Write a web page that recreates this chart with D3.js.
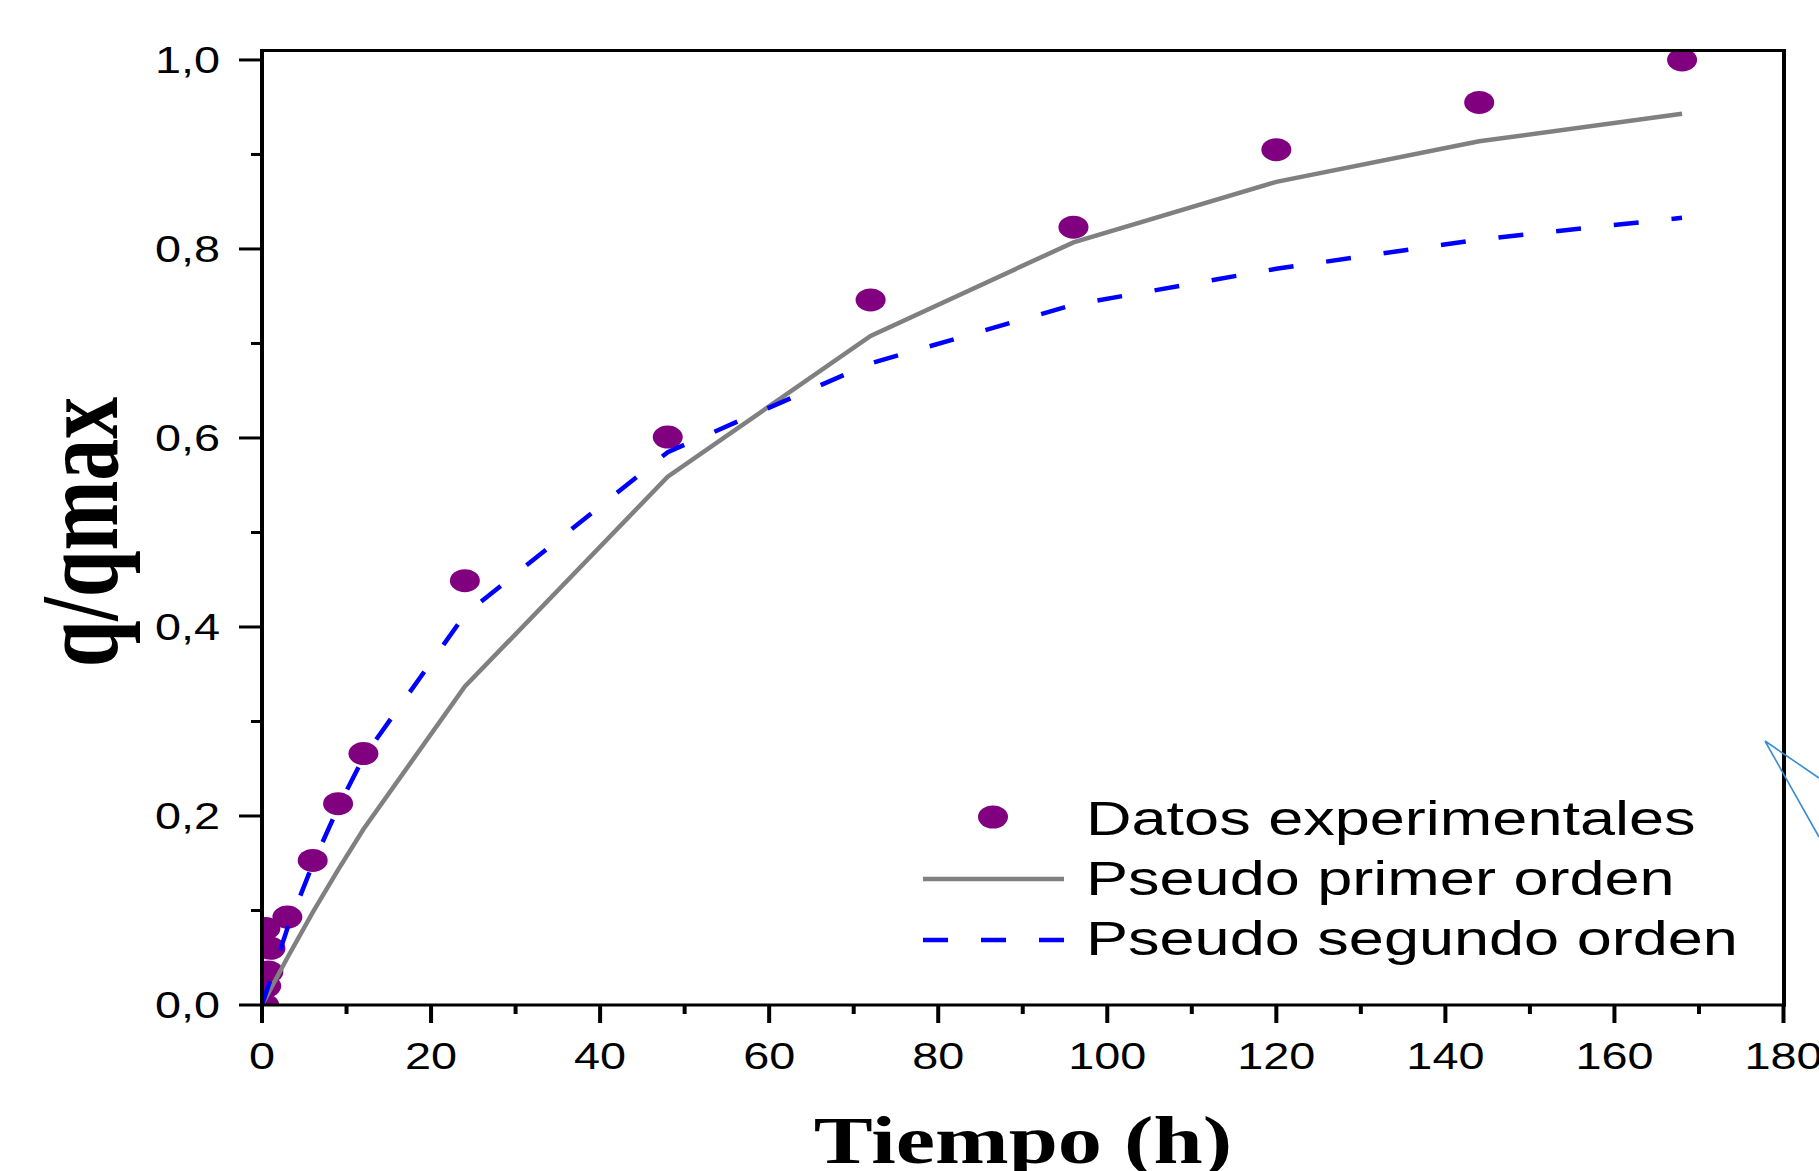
<!DOCTYPE html>
<html><head><meta charset="utf-8">
<script src="https://cdn.jsdelivr.net/npm/d3@7"></script>
<style>html,body{margin:0;padding:0;background:#fff;overflow:hidden}</style>
</head><body>
<svg id="c" width="1819" height="1171"></svg>
<script>
// ---- data ----
const expTime = [0.25, 0.4, 0.5, 0.75, 1.0, 3, 6, 9, 12, 24, 48, 72, 96, 120, 144, 168];
const expQ    = [0.000, 0.081, 0.020, 0.035, 0.060, 0.093, 0.153, 0.213, 0.266, 0.449, 0.601, 0.746, 0.823, 0.905, 0.955, 1.000];
const modelTime = [0, 3, 6, 9, 12, 24, 48, 72, 96, 120, 144, 168];
const pfoQ = [0, 0.050, 0.098, 0.143, 0.186, 0.337, 0.559, 0.708, 0.807, 0.871, 0.914, 0.943];
const psoQ = [0, 0.081, 0.149, 0.209, 0.262, 0.413, 0.585, 0.679, 0.741, 0.779, 0.810, 0.833];
const xTickValues = [0, 20, 40, 60, 80, 100, 120, 140, 160, 180];
const yTickValues = [0, 0.2, 0.4, 0.6, 0.8, 1.0];
const seriesNames = ["Datos experimentales", "Pseudo primer orden", "Pseudo segundo orden"];
const xTitle = "Tiempo (h)";
const yTitle = "q/qmax";

// ---- layout ----
const L = 262, R = 1783.5, T = 50.5, B = 1005;
const SX = 1.3; // horizontal stretch of the original picture
const sans = "'Liberation Sans', Arial, sans-serif";
const serif = "'Liberation Serif', 'Times New Roman', serif";
const svg = d3.select("#c");
svg.append("rect").attr("width", 1819).attr("height", 1171).attr("fill", "#fff");

const x = d3.scaleLinear().domain([0, 180]).range([L, R]);
const y = d3.scaleLinear().domain([0, 1.01]).range([B, T]);
const fmt = v => d3.format(".1f")(v).replace(".", ",");

svg.append("defs").append("clipPath").attr("id", "clip")
  .append("rect").attr("x", L).attr("y", T).attr("width", R - L).attr("height", B - T);

const plot = svg.append("g").attr("clip-path", "url(#clip)");
const expData = expTime.map((t, i) => [t, expQ[i]]);
const pfo = modelTime.map((t, i) => [t, pfoQ[i]]);
const pso = modelTime.map((t, i) => [t, psoQ[i]]);
const line = d3.line().x(d => x(d[0])).y(d => y(d[1]));

plot.selectAll("ellipse.pt").data(expData).join("ellipse").attr("class", "pt")
  .attr("cx", d => x(d[0])).attr("cy", d => y(d[1]))
  .attr("rx", 15).attr("ry", 11.5).attr("fill", "#800080");
plot.append("path").datum(pfo).attr("d", line)
  .attr("fill", "none").attr("stroke", "#808080").attr("stroke-width", 4.5);
plot.append("path").datum(pso).attr("d", line)
  .attr("fill", "none").attr("stroke", "#0000ff").attr("stroke-width", 4.5)
  .attr("stroke-dasharray", "25,33");

// ---- frame ----
const frame = svg.append("g").attr("stroke", "#000").attr("fill", "none");
frame.append("line").attr("x1", L).attr("x2", L).attr("y1", T - 1.5).attr("y2", B + 1.5).attr("stroke-width", 4);
frame.append("line").attr("x1", R + 0.5).attr("x2", R + 0.5).attr("y1", T - 1.5).attr("y2", B + 1.5).attr("stroke-width", 4);
frame.append("line").attr("x1", L).attr("x2", R + 2.5).attr("y1", T).attr("y2", T).attr("stroke-width", 3);
frame.append("line").attr("x1", L).attr("x2", R + 2.5).attr("y1", B).attr("y2", B).attr("stroke-width", 3);

// y ticks
const yMinor = d3.range(0, 11).map(i => i / 10);
frame.selectAll("line.yt").data(yMinor).join("line").attr("class", "yt")
  .attr("x1", (d, i) => i % 2 === 0 ? L - 23 : L - 11).attr("x2", L)
  .attr("y1", d => y(d)).attr("y2", d => y(d)).attr("stroke-width", 3);
// x ticks
const xMinor = d3.range(0, 19).map(i => i * 10);
frame.selectAll("line.xt").data(xMinor).join("line").attr("class", "xt")
  .attr("x1", d => x(d)).attr("x2", d => x(d))
  .attr("y1", B).attr("y2", (d, i) => i % 2 === 0 ? B + 18 : B + 9).attr("stroke-width", 4);

// tick labels
svg.selectAll("text.yl").data(yTickValues).join("text").attr("class", "yl")
  .attr("transform", d => `translate(220,${y(d)}) scale(${SX},1)`)
  .attr("text-anchor", "end").attr("dy", "0.35em")
  .attr("font-family", sans).attr("font-size", 36).attr("fill", "#000")
  .text(fmt);
svg.selectAll("text.xl").data(xTickValues).join("text").attr("class", "xl")
  .attr("transform", d => `translate(${x(d)},1069) scale(${SX},1)`)
  .attr("text-anchor", "middle")
  .attr("font-family", sans).attr("font-size", 36).attr("fill", "#000")
  .text(d => d);

// axis titles
svg.append("text").attr("transform", `translate(1023,1163) scale(${SX},1)`)
  .attr("text-anchor", "middle").attr("font-family", serif).attr("font-weight", "bold")
  .attr("font-size", 68).attr("fill", "#000").text(xTitle);
svg.append("text").attr("transform", `translate(117,532) scale(${SX},1) rotate(-90)`)
  .attr("text-anchor", "middle").attr("font-family", serif).attr("font-weight", "bold")
  .attr("font-size", 84).attr("fill", "#000").text(yTitle);

// legend
const leg = svg.append("g");
const rows = [835, 895, 955];
leg.append("ellipse").attr("cx", 993).attr("cy", 817).attr("rx", 15).attr("ry", 11.5).attr("fill", "#800080");
leg.append("line").attr("x1", 923).attr("x2", 1064).attr("y1", 879).attr("y2", 879)
  .attr("stroke", "#808080").attr("stroke-width", 4.5);
leg.append("line").attr("x1", 923).attr("x2", 1064).attr("y1", 940).attr("y2", 940)
  .attr("stroke", "#0000ff").attr("stroke-width", 4.5).attr("stroke-dasharray", "25,33");
leg.selectAll("text").data(seriesNames).join("text")
  .attr("transform", (d, i) => `translate(1086,${rows[i]}) scale(${SX},1)`)
  .attr("font-family", sans).attr("font-size", 48.5).attr("fill", "#000")
  .text(d => d);

// callout fragment at right edge
svg.append("path").attr("d", "M1819,778 L1765,741 L1819,837")
  .attr("fill", "none").attr("stroke", "#3a8dd1").attr("stroke-width", 1.6);
</script>
</body></html>
